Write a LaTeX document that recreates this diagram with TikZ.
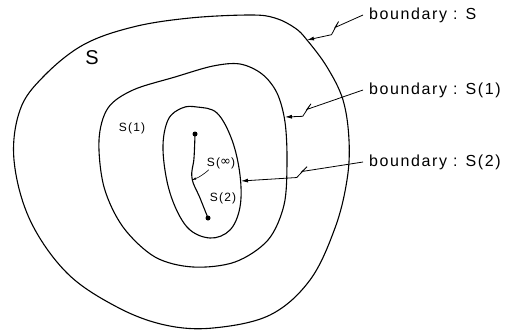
\documentclass[tikz,border=0pt]{standalone}
\usepackage{fontspec}
\setsansfont{Liberation Sans}
\newfontfamily\lblfont[LetterSpace=10]{Liberation Sans}
\newfontfamily\symfont{DejaVu Sans}
\usetikzlibrary{arrows.meta,calc}
\tikzset{
  region/.style={line width=1.1pt},
  conn/.style={line width=0.8pt,-{Latex[length=7pt,width=4pt]}},
  blabel/.style={anchor=west,inner sep=0pt,font=\lblfont\fontsize{16}{18}\selectfont},
  slabel/.style={inner sep=0pt,font=\lblfont\fontsize{12}{14}\selectfont},
  bigS/.style={inner sep=0pt,font=\sffamily\fontsize{20}{22}\selectfont},
  endpt/.style={circle,fill=black,inner sep=0pt,minimum size=5pt},
}
\newcommand{\breakarrow}[3]{%
  \path ($(#1)!#3!(#2)$) coordinate (za);
  \draw[conn] (#1) -- (za) -- ($(za)!7pt!35:(#1)$) -- ($(za)!8pt!40:(#2)$) -- (#2);
}
\begin{document}
\begin{tikzpicture}[x=1pt,y=-1pt]
\useasboundingbox (0,0) rectangle (508,330);
% outer region S
\draw[region] plot[smooth cycle,tension=0.6] coordinates {
 (20,110) (43,77) (83,45) (133,27) (190,18) (250,15) (275,18) (295,28) (307,40)
 (327,67) (343,100) (349,140) (347,180) (335,228) (310,280) (270,315) (213,328)
 (165,325) (117,307) (67,273) (30,220) (14,160)};
% middle region S(1)
\draw[region] plot[smooth cycle,tension=0.55] coordinates {
 (213,66) (240,64) (262,74) (277,93) (285,122) (287,162) (284,205) (268,240)
 (235,262) (193,267) (155,257) (123,227) (104,187) (99,140) (108,108) (133,90) (175,77)};
% inner region S(2)
\draw[region] plot[smooth cycle,tension=0.6] coordinates {
 (197,107) (217,113) (232,140) (240,175) (240,207) (230,230) (210,238) (187,227)
 (170,193) (163,150) (168,120) (182,108)};
% limit set S(infinity)
\node[endpt] (d1) at (195,134) {};
\node[endpt] (d2) at (208,218) {};
\draw[line width=1.1pt] plot[smooth,tension=0.7] coordinates {(195,134) (194,158) (192,178) (200,198) (208,218)};
\coordinate (sinfpt) at (192,180);
% labels
\node[bigS] (lS) at (92,58) {S};
\node[slabel] (lS1) at (132,128) {S(1)};
\node[slabel] (lSinf) at (221,163) {S(\raisebox{0.3pt}{\symfont\fontsize{13}{14}\selectfont ∞})};
\node[slabel] (lS2) at (223,198) {S(2)};
\draw[line width=0.6pt,-{Latex[length=4pt,width=2.5pt]}] (lSinf.south west) ++(2,1) to[bend left=10] (sinfpt);
% boundary labels
\node[blabel] (bS) at (369,15) {boundary : S};
\node[blabel] (bS1) at (369,90) {boundary : S(1)};
\node[blabel] (bS2) at (369,162) {boundary : S(2)};
\coordinate (tS) at (307,40);
\coordinate (tS1) at (285,117);
\coordinate (tS2) at (241,181);
\coordinate (fS) at ($(bS.west)+(-6,0)$);
\coordinate (fS1) at ($(bS1.west)+(-6,0)$);
\coordinate (fS2) at ($(bS2.west)+(-6,0)$);
\breakarrow{fS}{tS}{0.5}
\breakarrow{fS1}{tS1}{0.72}
\breakarrow{fS2}{tS2}{0.5}
\end{tikzpicture}
\end{document}
